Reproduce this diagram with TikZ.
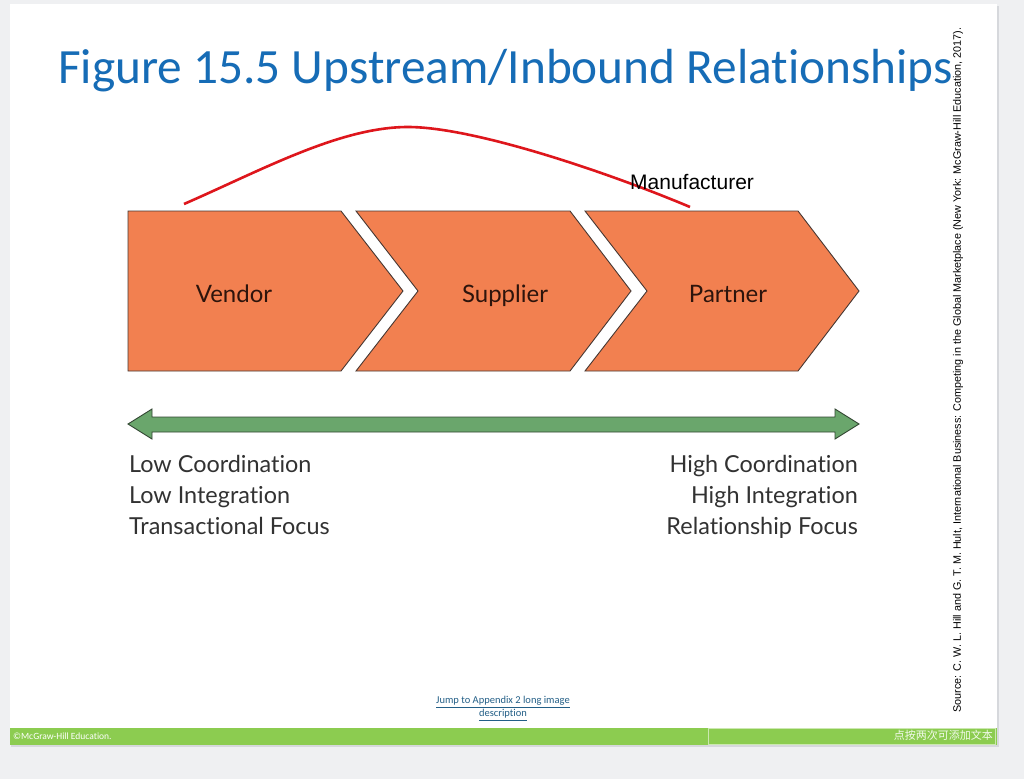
\documentclass[tikz,border=0pt]{standalone}
\usepackage{fontspec}
\setmainfont{Liberation Sans}
\newfontfamily\titlefont[RawFeature={-liga;-clig;-dlig}]{Carlito}
\newfontfamily\labfont[RawFeature={-liga;-clig;-dlig}]{Lato}
\newfontfamily\cjkfont{Noto Sans CJK SC}
\definecolor{bgcol}{RGB}{239,240,242}
\definecolor{shadowcol}{RGB}{214,216,220}
\definecolor{barcol}{RGB}{140,204,80}
\definecolor{titleblue}{RGB}{22,108,182}
\definecolor{chevfill}{RGB}{242,128,80}
\definecolor{chevline}{RGB}{70,55,50}
\definecolor{arrowfill}{RGB}{106,166,108}
\definecolor{arrowline}{RGB}{50,70,50}
\definecolor{curvered}{RGB}{222,22,28}
\definecolor{textgray}{RGB}{50,50,50}
\definecolor{chevtext}{RGB}{45,20,12}
\definecolor{linkcol}{RGB}{35,95,135}
\begin{document}
\begin{tikzpicture}[x=1pt,y=-1pt,
  chevron/.style={fill=chevfill,draw=chevline,line width=0.9pt,line join=miter},
  chevlabel/.style={font=\labfont\fontsize{24}{28}\selectfont,text=chevtext,inner sep=0pt,anchor=base},
  lowtext/.style={font=\labfont\fontsize{23.4}{28}\selectfont,text=textgray,inner sep=0pt},
  smalllink/.style={font=\titlefont\fontsize{10.5}{12}\selectfont,text=linkcol,inner sep=0pt}]
\useasboundingbox (0,0) rectangle (1024,779);
\fill[bgcol] (0,0) rectangle (1024,779);
% slide
\fill[shadowcol] (11,6) rectangle (999,747);
\fill[white] (10,4) rectangle (997,745);
\fill[barcol] (10,728) rectangle (997,745);
\draw[white!55!barcol,line width=0.8pt] (708,728.5) rectangle (995,744);
% title
\node[anchor=base west,inner sep=0pt,text=titleblue,font=\titlefont\fontsize{49.3}{60}\selectfont] (title) at (58,83) {Figure 15.5 Upstream/Inbound Relationships};
% chevrons
\draw[chevron] (128,211) -- (341,211) -- (403,291) -- (341,371) -- (128,371) -- cycle;
\draw[chevron] (356,211) -- (570,211) -- (631,291) -- (570,371) -- (356,371) -- (418,291) -- cycle;
\draw[chevron] (585,211) -- (798,211) -- (859,291) -- (798,371) -- (585,371) -- (647,291) -- cycle;
\node[chevlabel] (vendor) at (234,302) {Vendor};
\node[chevlabel] (supplier) at (505,302) {Supplier};
\node[chevlabel] (partner) at (728,302) {Partner};
% red curve
\coordinate (cstart) at (184,204);
\coordinate (cpeak) at (408,127);
\coordinate (cend) at (690,207);
\draw[curvered,line width=2.6pt] (cstart) .. controls (262,170) and (340,127) .. (cpeak) .. controls (475,127) and (612,174) .. (cend);
\node[anchor=base west,inner sep=0pt,font=\fontsize{21}{24}\selectfont] (manu) at (630,189) {Manufacturer};
% green double arrow
\draw[fill=arrowfill,draw=arrowline,line width=0.9pt] (128,424) -- (152,409) -- (152,417) -- (835,417) -- (835,409) -- (859,424) -- (835,439) -- (835,432) -- (152,432) -- (152,439) -- cycle;
% lower texts
\node[lowtext,anchor=base west] (l1) at (129,472) {Low Coordination};
\node[lowtext,anchor=base west] (l2) at (129,503) {Low Integration};
\node[lowtext,anchor=base west] (l3) at (129,534) {Transactional Focus};
\node[lowtext,anchor=base east] (r1) at (858,472) {High Coordination};
\node[lowtext,anchor=base east] (r2) at (858,503) {High Integration};
\node[lowtext,anchor=base east] (r3) at (858,534) {Relationship Focus};
% source (vertical)
\node[rotate=90,inner sep=0pt,font=\fontsize{10.8}{13}\selectfont] (source) at (958,370) {Source: C. W. L. Hill and G. T. M. Hult, International Business: Competing in the Global Marketplace (New York: McGraw-Hill Education, 2017).};
% link
\node[smalllink] (link1) at (503,702) {\underline{Jump to Appendix 2 long image}};
\node[smalllink] (link2) at (503,715) {\underline{description}};
% footer
\node[anchor=west,inner sep=0pt,text=white,font=\titlefont\fontsize{9.5}{11}\selectfont] (copy) at (13,736.5) {©McGraw-Hill Education.};
\node[anchor=east,inner sep=0pt,text=white!88!barcol,font=\cjkfont\fontsize{11}{13}\selectfont] (cjk) at (993,735.5) {点按两次可添加文本};
\end{tikzpicture}
\end{document}
